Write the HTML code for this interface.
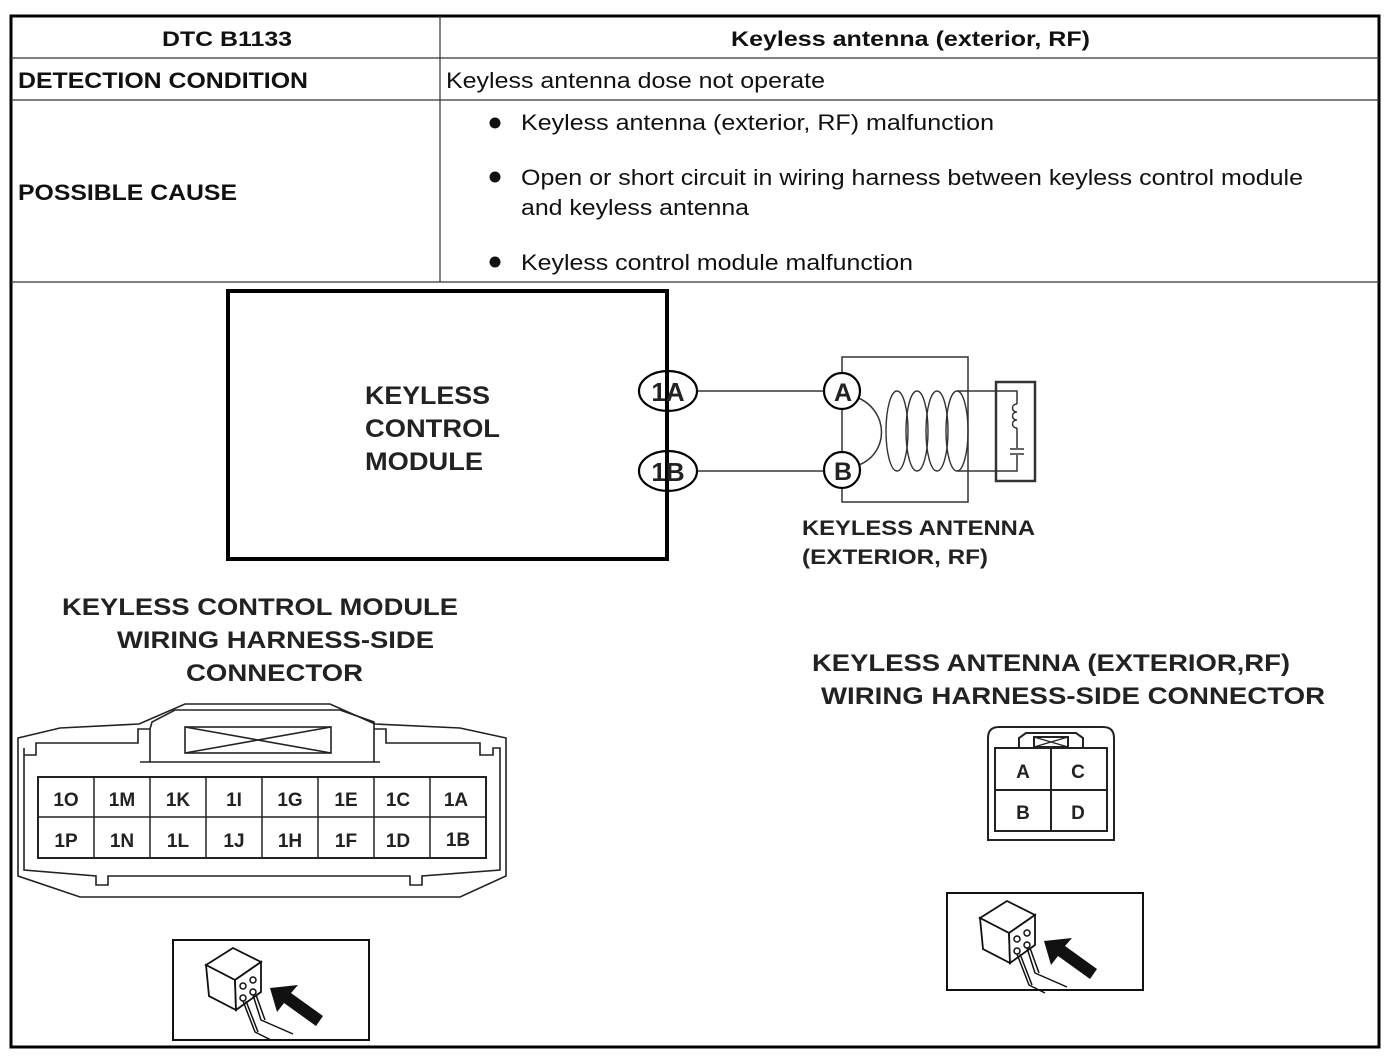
<!DOCTYPE html>
<html><head><meta charset="utf-8"><style>
html,body{margin:0;padding:0;background:#fff}
svg{display:block}
text{font-family:"Liberation Sans",Arial,sans-serif;fill:#111}
.d{font-weight:bold;fill:#222}
</style></head><body>
<svg width="1390" height="1062" viewBox="0 0 1390 1062" xmlns="http://www.w3.org/2000/svg">
<rect x="0" y="0" width="1390" height="1062" fill="#fff"/>
<rect x="11" y="16" width="1368" height="1031" fill="none" stroke="#000" stroke-width="3"/>
<line x1="11" y1="58" x2="1379" y2="58" stroke="#333" stroke-width="1.2"/>
<line x1="11" y1="100" x2="1379" y2="100" stroke="#333" stroke-width="1.2"/>
<line x1="11" y1="282" x2="1379" y2="282" stroke="#333" stroke-width="1.2"/>
<line x1="440" y1="16" x2="440" y2="282" stroke="#333" stroke-width="1.2"/>
<g lengthAdjust="spacingAndGlyphs">
<text x="162" y="46" font-size="21" font-weight="bold" textLength="130" lengthAdjust="spacingAndGlyphs">DTC B1133</text>
<text x="731" y="46" font-size="21" font-weight="bold" textLength="359" lengthAdjust="spacingAndGlyphs">Keyless antenna (exterior, RF)</text>
<text x="18" y="88" font-size="22" font-weight="bold" textLength="290" lengthAdjust="spacingAndGlyphs">DETECTION CONDITION</text>
<text x="446" y="88" font-size="22" textLength="379" lengthAdjust="spacingAndGlyphs">Keyless antenna dose not operate</text>
<text x="18" y="200" font-size="22" font-weight="bold" textLength="219" lengthAdjust="spacingAndGlyphs">POSSIBLE CAUSE</text>
<text x="521" y="130" font-size="22" textLength="473" lengthAdjust="spacingAndGlyphs">Keyless antenna (exterior, RF) malfunction</text>
<text x="521" y="185" font-size="22" textLength="782" lengthAdjust="spacingAndGlyphs">Open or short circuit in wiring harness between keyless control module</text>
<text x="521" y="215" font-size="22" textLength="228" lengthAdjust="spacingAndGlyphs">and keyless antenna</text>
<text x="521" y="270" font-size="22" textLength="392" lengthAdjust="spacingAndGlyphs">Keyless control module malfunction</text>
</g>
<circle cx="495" cy="123" r="5.5" fill="#111"/>
<circle cx="495" cy="177" r="5.5" fill="#111"/>
<circle cx="495" cy="262" r="5.5" fill="#111"/>

<rect x="228" y="291" width="439" height="268" fill="none" stroke="#000" stroke-width="4"/>
<text class="d" font-size="25" x="365" y="404" textLength="125" lengthAdjust="spacingAndGlyphs">KEYLESS</text>
<text class="d" font-size="25" x="365" y="437" textLength="135" lengthAdjust="spacingAndGlyphs">CONTROL</text>
<text class="d" font-size="25" x="365" y="470" textLength="118" lengthAdjust="spacingAndGlyphs">MODULE</text>
<line x1="698" y1="391" x2="824" y2="391" stroke="#333" stroke-width="1.5"/>
<line x1="698" y1="471" x2="824" y2="471" stroke="#333" stroke-width="1.5"/>
<ellipse cx="668" cy="391" rx="29" ry="20" fill="#fff" stroke="#000" stroke-width="2.2"/>
<ellipse cx="668" cy="471" rx="29" ry="20" fill="#fff" stroke="#000" stroke-width="2.2"/>
<line x1="667" y1="370" x2="667" y2="492" stroke="#000" stroke-width="4"/>
<text class="d" x="668" y="401" font-size="26" text-anchor="middle">1A</text>
<text class="d" x="668" y="481" font-size="26" text-anchor="middle">1B</text>
<rect x="842" y="357" width="126" height="145" fill="none" stroke="#333" stroke-width="1.5"/>
<path d="M856,397 C890,410 890,455 856,466" fill="none" stroke="#333" stroke-width="1.5"/>
<g fill="none" stroke="#333" stroke-width="1.4">
<ellipse cx="897" cy="431" rx="11" ry="40"/>
<ellipse cx="917" cy="431" rx="11" ry="40"/>
<ellipse cx="937" cy="431" rx="11" ry="40"/>
<ellipse cx="957" cy="431" rx="11" ry="40"/>
</g>
<path d="M957,391 L1017,391 L1017,404 M1017,428 L1017,448 M1010,449 L1024,449 M1010,454 L1024,454 M1017,455 L1017,471 L957,471" fill="none" stroke="#333" stroke-width="1.5"/>
<path d="M1017,404 c-6,0 -6,8 0,8 c-6,0 -6,8 0,8 c-6,0 -6,8 0,8" fill="none" stroke="#333" stroke-width="1.5"/>
<rect x="996" y="382" width="39" height="99" fill="none" stroke="#333" stroke-width="2.5"/>
<circle cx="842" cy="391" r="18" fill="#fff" stroke="#000" stroke-width="2.2"/>
<circle cx="842" cy="470" r="18" fill="#fff" stroke="#000" stroke-width="2.2"/>
<text class="d" x="843" y="401" font-size="25" text-anchor="middle">A</text>
<text class="d" x="843" y="480" font-size="25" text-anchor="middle">B</text>
<text class="d" x="802" y="535" font-size="21" textLength="233" lengthAdjust="spacingAndGlyphs">KEYLESS ANTENNA</text>
<text class="d" x="802" y="564" font-size="21" textLength="186" lengthAdjust="spacingAndGlyphs">(EXTERIOR, RF)</text>

<text class="d" x="62" y="615" font-size="24" textLength="396" lengthAdjust="spacingAndGlyphs">KEYLESS CONTROL MODULE</text>
<text class="d" x="117" y="648" font-size="24" textLength="317" lengthAdjust="spacingAndGlyphs">WIRING HARNESS-SIDE</text>
<text class="d" x="186" y="681" font-size="24" textLength="177" lengthAdjust="spacingAndGlyphs">CONNECTOR</text>
<text class="d" x="812" y="671" font-size="24" textLength="478" lengthAdjust="spacingAndGlyphs">KEYLESS ANTENNA (EXTERIOR,RF)</text>
<text class="d" x="821" y="704" font-size="24" textLength="504" lengthAdjust="spacingAndGlyphs">WIRING HARNESS-SIDE CONNECTOR</text>

<g fill="none" stroke="#222" stroke-width="1.6">
<path d="M18,738 L18,876 L80,897 L460,897 L506,876 L506,738 L460,728 L375,724 L330,704 L185,704 L139,724 L60,728 Z"/>
<path d="M24,748 L24,870 L96,876 L96,885 L108,885 L108,876 L410,876 L410,885 L422,885 L422,876 L500,870 L500,748 L493,748 L493,755 L480,755 L480,743 L386,743 L386,729 L374,729 L374,722 L340,710 L175,710 L152,722 L150,729 L138,729 L138,743 L36,743 L36,755 L24,755"/>
<path d="M150,729 L150,762 M374,729 L374,762"/>
<line x1="140" y1="762" x2="380" y2="762"/>
<rect x="185" y="727" width="146" height="26"/>
<path d="M185,727 L331,753 M185,753 L331,727"/>
</g>
<rect x="38" y="777" width="448" height="81" fill="none" stroke="#222" stroke-width="2"/>
<line x1="38" y1="817" x2="486" y2="817" stroke="#222" stroke-width="1.5"/>
<g stroke="#222" stroke-width="1.5">
<line x1="94" y1="777" x2="94" y2="858"/><line x1="150" y1="777" x2="150" y2="858"/>
<line x1="206" y1="777" x2="206" y2="858"/><line x1="262" y1="777" x2="262" y2="858"/>
<line x1="318" y1="777" x2="318" y2="858"/><line x1="374" y1="777" x2="374" y2="858"/>
<line x1="430" y1="777" x2="430" y2="858"/>
</g>
<g font-size="19" text-anchor="middle" class="d">
<text class="d" x="66" y="806">1O</text><text class="d" x="122" y="806">1M</text><text class="d" x="178" y="806">1K</text><text class="d" x="234" y="806">1I</text>
<text class="d" x="290" y="806">1G</text><text class="d" x="346" y="806">1E</text><text class="d" x="398" y="806">1C</text><text class="d" x="456" y="806">1A</text>
<text class="d" x="66" y="847">1P</text><text class="d" x="122" y="847">1N</text><text class="d" x="178" y="847">1L</text><text class="d" x="234" y="847">1J</text>
<text class="d" x="290" y="847">1H</text><text class="d" x="346" y="847">1F</text><text class="d" x="398" y="847">1D</text><text class="d" x="458" y="846">1B</text>
</g>

<g fill="none" stroke="#222" stroke-width="2">
<path d="M988,840 L988,738 Q988,727 999,727 L1103,727 Q1114,727 1114,738 L1114,840 Z"/>
<rect x="995" y="748" width="112" height="83"/>
<line x1="1051" y1="748" x2="1051" y2="831"/>
<line x1="995" y1="790" x2="1107" y2="790"/>
<path d="M1019,748 L1019,738 L1026,733 L1076,733 L1083,738 L1083,748"/>
<rect x="1034" y="737" width="34" height="10"/>
<path d="M1034,737 L1068,747 M1034,747 L1068,737" stroke-width="1.2"/>
</g>
<g font-size="19" text-anchor="middle">
<text class="d" x="1023" y="778">A</text><text class="d" x="1078" y="778">C</text>
<text class="d" x="1023" y="819">B</text><text class="d" x="1078" y="819">D</text>
</g>

<g transform="translate(173,940)">
<rect x="0" y="0" width="196" height="100" fill="none" stroke="#111" stroke-width="2"/>
<g fill="#fff" stroke="#111" stroke-width="1.8">
<path d="M33,25 L60,8 L88,22 L62,40 Z"/>
<path d="M33,25 L62,40 L63,70 L36,56 Z"/>
<path d="M62,40 L88,22 L88,52 L63,70 Z"/>
</g>
<g fill="none" stroke="#111" stroke-width="1.5">
<circle cx="70" cy="46" r="3"/><circle cx="80" cy="40" r="3"/><circle cx="70" cy="58" r="3"/><circle cx="80" cy="52" r="3"/>
<path d="M70,61 L82,92 L98,100 M80,55 L88,80 L120,94 M73,61 L85,92 M83,55 L92,80"/>
</g>
<path d="M97,48 L125,45 L118,53 L150,76 L143,86 L111,63 L104,72 Z" fill="#111"/>
</g>
<g transform="translate(947,893)">
<rect x="0" y="0" width="196" height="97" fill="none" stroke="#111" stroke-width="2"/>
<g fill="#fff" stroke="#111" stroke-width="1.8">
<path d="M33,25 L60,8 L88,22 L62,40 Z"/>
<path d="M33,25 L62,40 L63,70 L36,56 Z"/>
<path d="M62,40 L88,22 L88,52 L63,70 Z"/>
</g>
<g fill="none" stroke="#111" stroke-width="1.5">
<circle cx="70" cy="46" r="3"/><circle cx="80" cy="40" r="3"/><circle cx="70" cy="58" r="3"/><circle cx="80" cy="52" r="3"/>
<path d="M70,61 L82,92 L98,100 M80,55 L88,80 L120,94 M73,61 L85,92 M83,55 L92,80"/>
</g>
<path d="M97,48 L125,45 L118,53 L150,76 L143,86 L111,63 L104,72 Z" fill="#111"/>
</g>
</svg>
</body></html>
